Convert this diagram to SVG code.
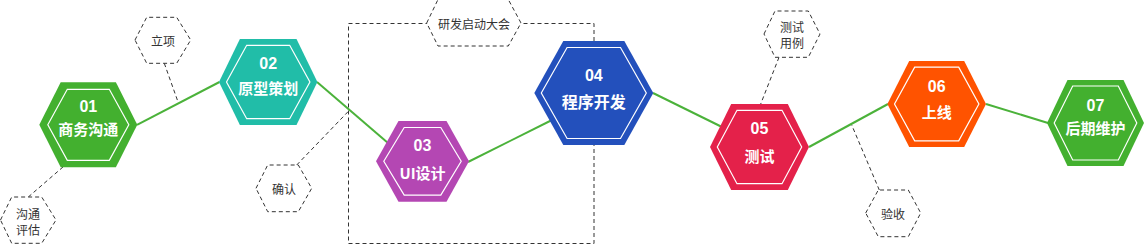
<svg xmlns="http://www.w3.org/2000/svg" width="1146" height="245" viewBox="0 0 1146 245">
<style>
.green{fill:none;stroke:#4BB23A;stroke-width:2}
.dash{fill:none;stroke:#333;stroke-width:1;stroke-dasharray:4 3}
.call{fill:#fff;stroke:#333;stroke-width:1;stroke-dasharray:4 3}
.inner{fill:none;stroke:#fff;stroke-width:1.2}
.num{font-family:"Liberation Sans",Arial,sans-serif;font-weight:bold;font-size:16px;fill:#fff;text-anchor:middle;dominant-baseline:central}
.lab{font-family:"Noto Sans CJK SC","Noto Sans",sans-serif;font-weight:bold;font-size:15px;fill:#fff;text-anchor:middle;dominant-baseline:central}
.ct{font-family:"Noto Sans CJK SC","Noto Sans",sans-serif;font-size:12px;fill:#333;text-anchor:middle;dominant-baseline:central}
</style>
<rect x="0" y="0" width="1146" height="245" fill="#fff"/>
<rect x="348.5" y="23.5" width="245.5" height="220" class="dash"/>
<g id="connectors">
<line x1="137" y1="124.8" x2="219.5" y2="82" class="green"/>
<line x1="317" y1="82" x2="388" y2="143" class="green"/>
<line x1="468" y1="162" x2="552" y2="120" class="green"/>
<line x1="653" y1="93" x2="722" y2="127" class="green"/>
<line x1="809" y1="147" x2="888" y2="104" class="green"/>
<line x1="986" y1="104" x2="1048" y2="123" class="green"/>
<line x1="164.3" y1="63.3" x2="177.7" y2="101" class="dash"/>
<line x1="28.3" y1="197" x2="63.3" y2="166.7" class="dash"/>
<line x1="296.7" y1="165" x2="348.7" y2="111" class="dash"/>
<line x1="779" y1="57.3" x2="760.7" y2="104" class="dash"/>
<line x1="879.3" y1="190" x2="851.7" y2="125" class="dash"/>
</g>
<g id="c-lixiang">
<polygon class="call" points="135,40 146.7,17.3 176.7,17.3 190.7,40 176.7,63.3 146.7,63.3"/>
<text class="ct" x="163" y="40">立项</text>
</g>
<g id="c-goutong">
<polygon class="call" points="0.5,220 11.7,197 41.7,197 56,220 41.7,243.3 11.7,243.3"/>
<text class="ct" x="28" y="213">沟通</text>
<text class="ct" x="28" y="229">评估</text>
</g>
<g id="c-queren">
<polygon class="call" points="256,188.3 267.7,165 298.3,165 311.7,188.3 298.3,211.7 267.7,211.7"/>
<text class="ct" x="284" y="188.3">确认</text>
</g>
<g id="c-yanfa">
<polygon class="call" points="426.7,23 438,-0.5 508.3,-0.5 521,23 508.3,46 438,46"/>
<text class="ct" x="474" y="23">研发启动大会</text>
</g>
<g id="c-ceshi">
<polygon class="call" points="764,34 775,11 808.3,11 820,34 808.3,57.3 775,57.3"/>
<text class="ct" x="792" y="26.7">测试</text>
<text class="ct" x="792" y="42.7">用例</text>
</g>
<g id="c-yanshou">
<polygon class="call" points="865.7,213 878.3,190 908.3,190 920.7,213 908.3,236.7 878.3,236.7"/>
<text class="ct" x="893" y="213">验收</text>
</g>
<g id="n01">
<polygon fill="#43B02F" points="39.3,124.8 60.7,82.3 115.9,82.3 137.3,124.8 115.9,167.3 60.7,167.3"/>
<polygon class="inner" points="47.8,124.8 67.3,89.3 109.3,89.3 128.8,124.8 109.3,160.3 67.3,160.3"/>
<text class="num" x="88.3" y="106.7">01</text>
<text class="lab" x="88.3" y="128">商务沟通</text>
</g>
<g id="n02">
<polygon fill="#21BDA8" points="219,82 239.9,39 296.5,39 317.4,82 296.5,125 239.9,125"/>
<polygon class="inner" points="226.5,82 246.7,45.3 289.7,45.3 309.9,82 289.7,118.7 246.7,118.7"/>
<text class="num" x="268.2" y="63.5">02</text>
<text class="lab" x="268.2" y="87">原型策划</text>
</g>
<g id="n03">
<polygon fill="#B447B3" points="376,161.3 398.5,120.9 446.5,120.9 469,161.3 446.5,201.7 398.5,201.7"/>
<polygon class="inner" points="383.8,161.3 404.2,127.5 440.8,127.5 461.2,161.3 440.8,195.1 404.2,195.1"/>
<text class="num" x="422.5" y="145.7">03</text>
<text class="lab" x="422.5" y="172">UI设计</text>
</g>
<g id="n04">
<polygon fill="#2350BC" points="534.3,93 563.3,41 624.3,41 653.3,93 624.3,145 563.3,145"/>
<polygon class="inner" points="541.3,93 567.1,47.5 620.5,47.5 646.3,93 620.5,138.5 567.1,138.5"/>
<text class="num" x="593.8" y="75">04</text>
<text class="lab" x="593.8" y="100.5" style="font-size:16px">程序开发</text>
</g>
<g id="n05">
<polygon fill="#E4214A" points="710,147 731.2,104 787.8,104 809,147 787.8,190 731.2,190"/>
<polygon class="inner" points="717.3,147 737,110.3 782,110.3 801.7,147 782,183.7 737,183.7"/>
<text class="num" x="759.5" y="128.5">05</text>
<text class="lab" x="759.5" y="155">测试</text>
</g>
<g id="n06">
<polygon fill="#FF5300" points="887.4,104 909.2,61 964.2,61 986,104 964.2,147 909.2,147"/>
<polygon class="inner" points="894.5,104 914.7,67.2 958.7,67.2 978.9,104 958.7,140.8 914.7,140.8"/>
<text class="num" x="936.7" y="86">06</text>
<text class="lab" x="936.7" y="111.7">上线</text>
</g>
<g id="n07">
<polygon fill="#43B02F" points="1047,123 1067.5,80 1123.5,80 1144,123 1123.5,166 1067.5,166"/>
<polygon class="inner" points="1054.2,123 1072.7,86 1118.3,86 1136.8,123 1118.3,160 1072.7,160"/>
<text class="num" x="1095.5" y="105">07</text>
<text class="lab" x="1095.5" y="127.7">后期维护</text>
</g>
</svg>
